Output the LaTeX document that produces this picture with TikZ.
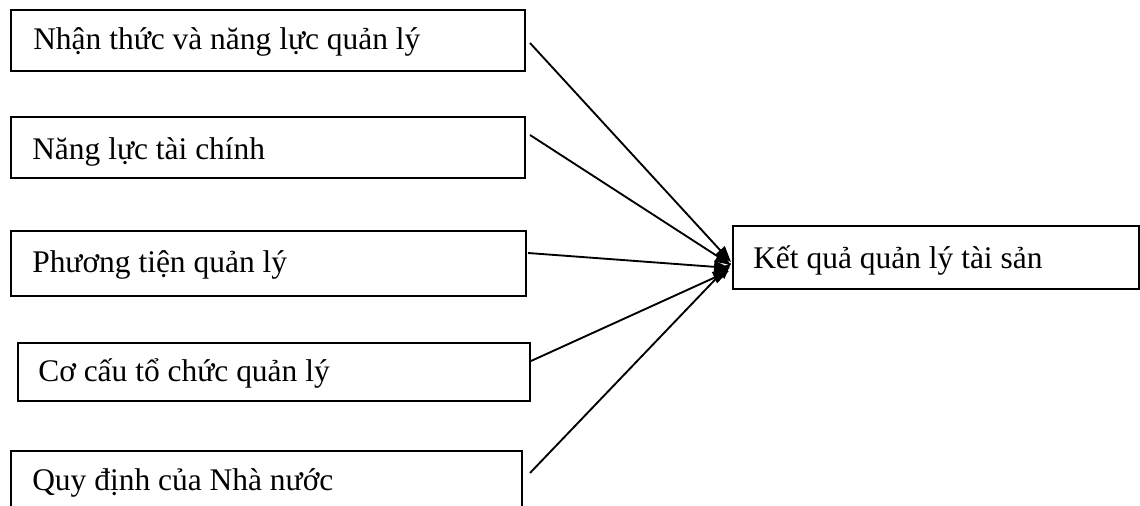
\documentclass[tikz,border=0pt]{standalone}
\usepackage{fontspec}
\setmainfont{Liberation Serif}
\usetikzlibrary{arrows.meta,fit,calc}
\tikzset{
  box/.style={draw=black, line width=1.5pt, inner sep=0pt, rectangle},
  lbl/.style={anchor=base west, inner sep=0pt, font=\fontsize{23.6pt}{28pt}\selectfont},
  arr/.style={line width=1.4pt, -{Triangle[length=12pt,width=9pt]}}
}
\begin{document}
\begin{tikzpicture}[x=0.75pt,y=-0.75pt]
\useasboundingbox (0,0) rectangle (1140,506);
\clip (0,0) rectangle (1140,506);
\fill[white] (0,0) rectangle (1140,506);

% factor boxes
\node[box, fit={(10.5,10) (525,71)}] (b1) {};
\node[box, fit={(11,117) (525,178)}] (b2) {};
\node[box, fit={(11,231) (526,296)}] (b3) {};
\node[box, fit={(18,343) (530,401)}] (b4) {};
\node[box, fit={(10.5,451) (522,530)}] (b5) {};
% result box
\node[box, fit={(733,226) (1138.5,289)}] (r) {};

% labels
\node[lbl] (t1) at (33,50) {Nhận thức và năng lực quản lý};
\node[lbl] (t2) at (32,160) {Năng lực tài chính};
\node[lbl] (t3) at (32,273) {Phương tiện quản lý};
\node[lbl] (t4) at (38,381) {Cơ cấu tổ chức quản lý};
\node[lbl] (t5) at (32,490) {Quy định của Nhà nước};
\node[lbl] (tr) at (753,269) {Kết quả quản lý tài sản};

% arrow tips at the result box
\coordinate (e1) at (731,262);
\coordinate (e2) at (731,265);
\coordinate (e3) at (730,268);
\coordinate (e4) at (729,271);
\coordinate (e5) at (731,263);

% connectors
\draw[arr] ($(b1.east)+(4,2.5)$) -- (e1);
\draw[arr] ($(b2.east)+(4,-12.5)$) -- (e2);
\draw[arr] ($(b3.east)+(1,-10.5)$) -- (e3);
\draw[arr] ($(b4.east)+(0,-11)$) -- (e4);
\draw[arr] ($(b5.east)+(7,-17.5)$) -- (e5);
\end{tikzpicture}
\end{document}
